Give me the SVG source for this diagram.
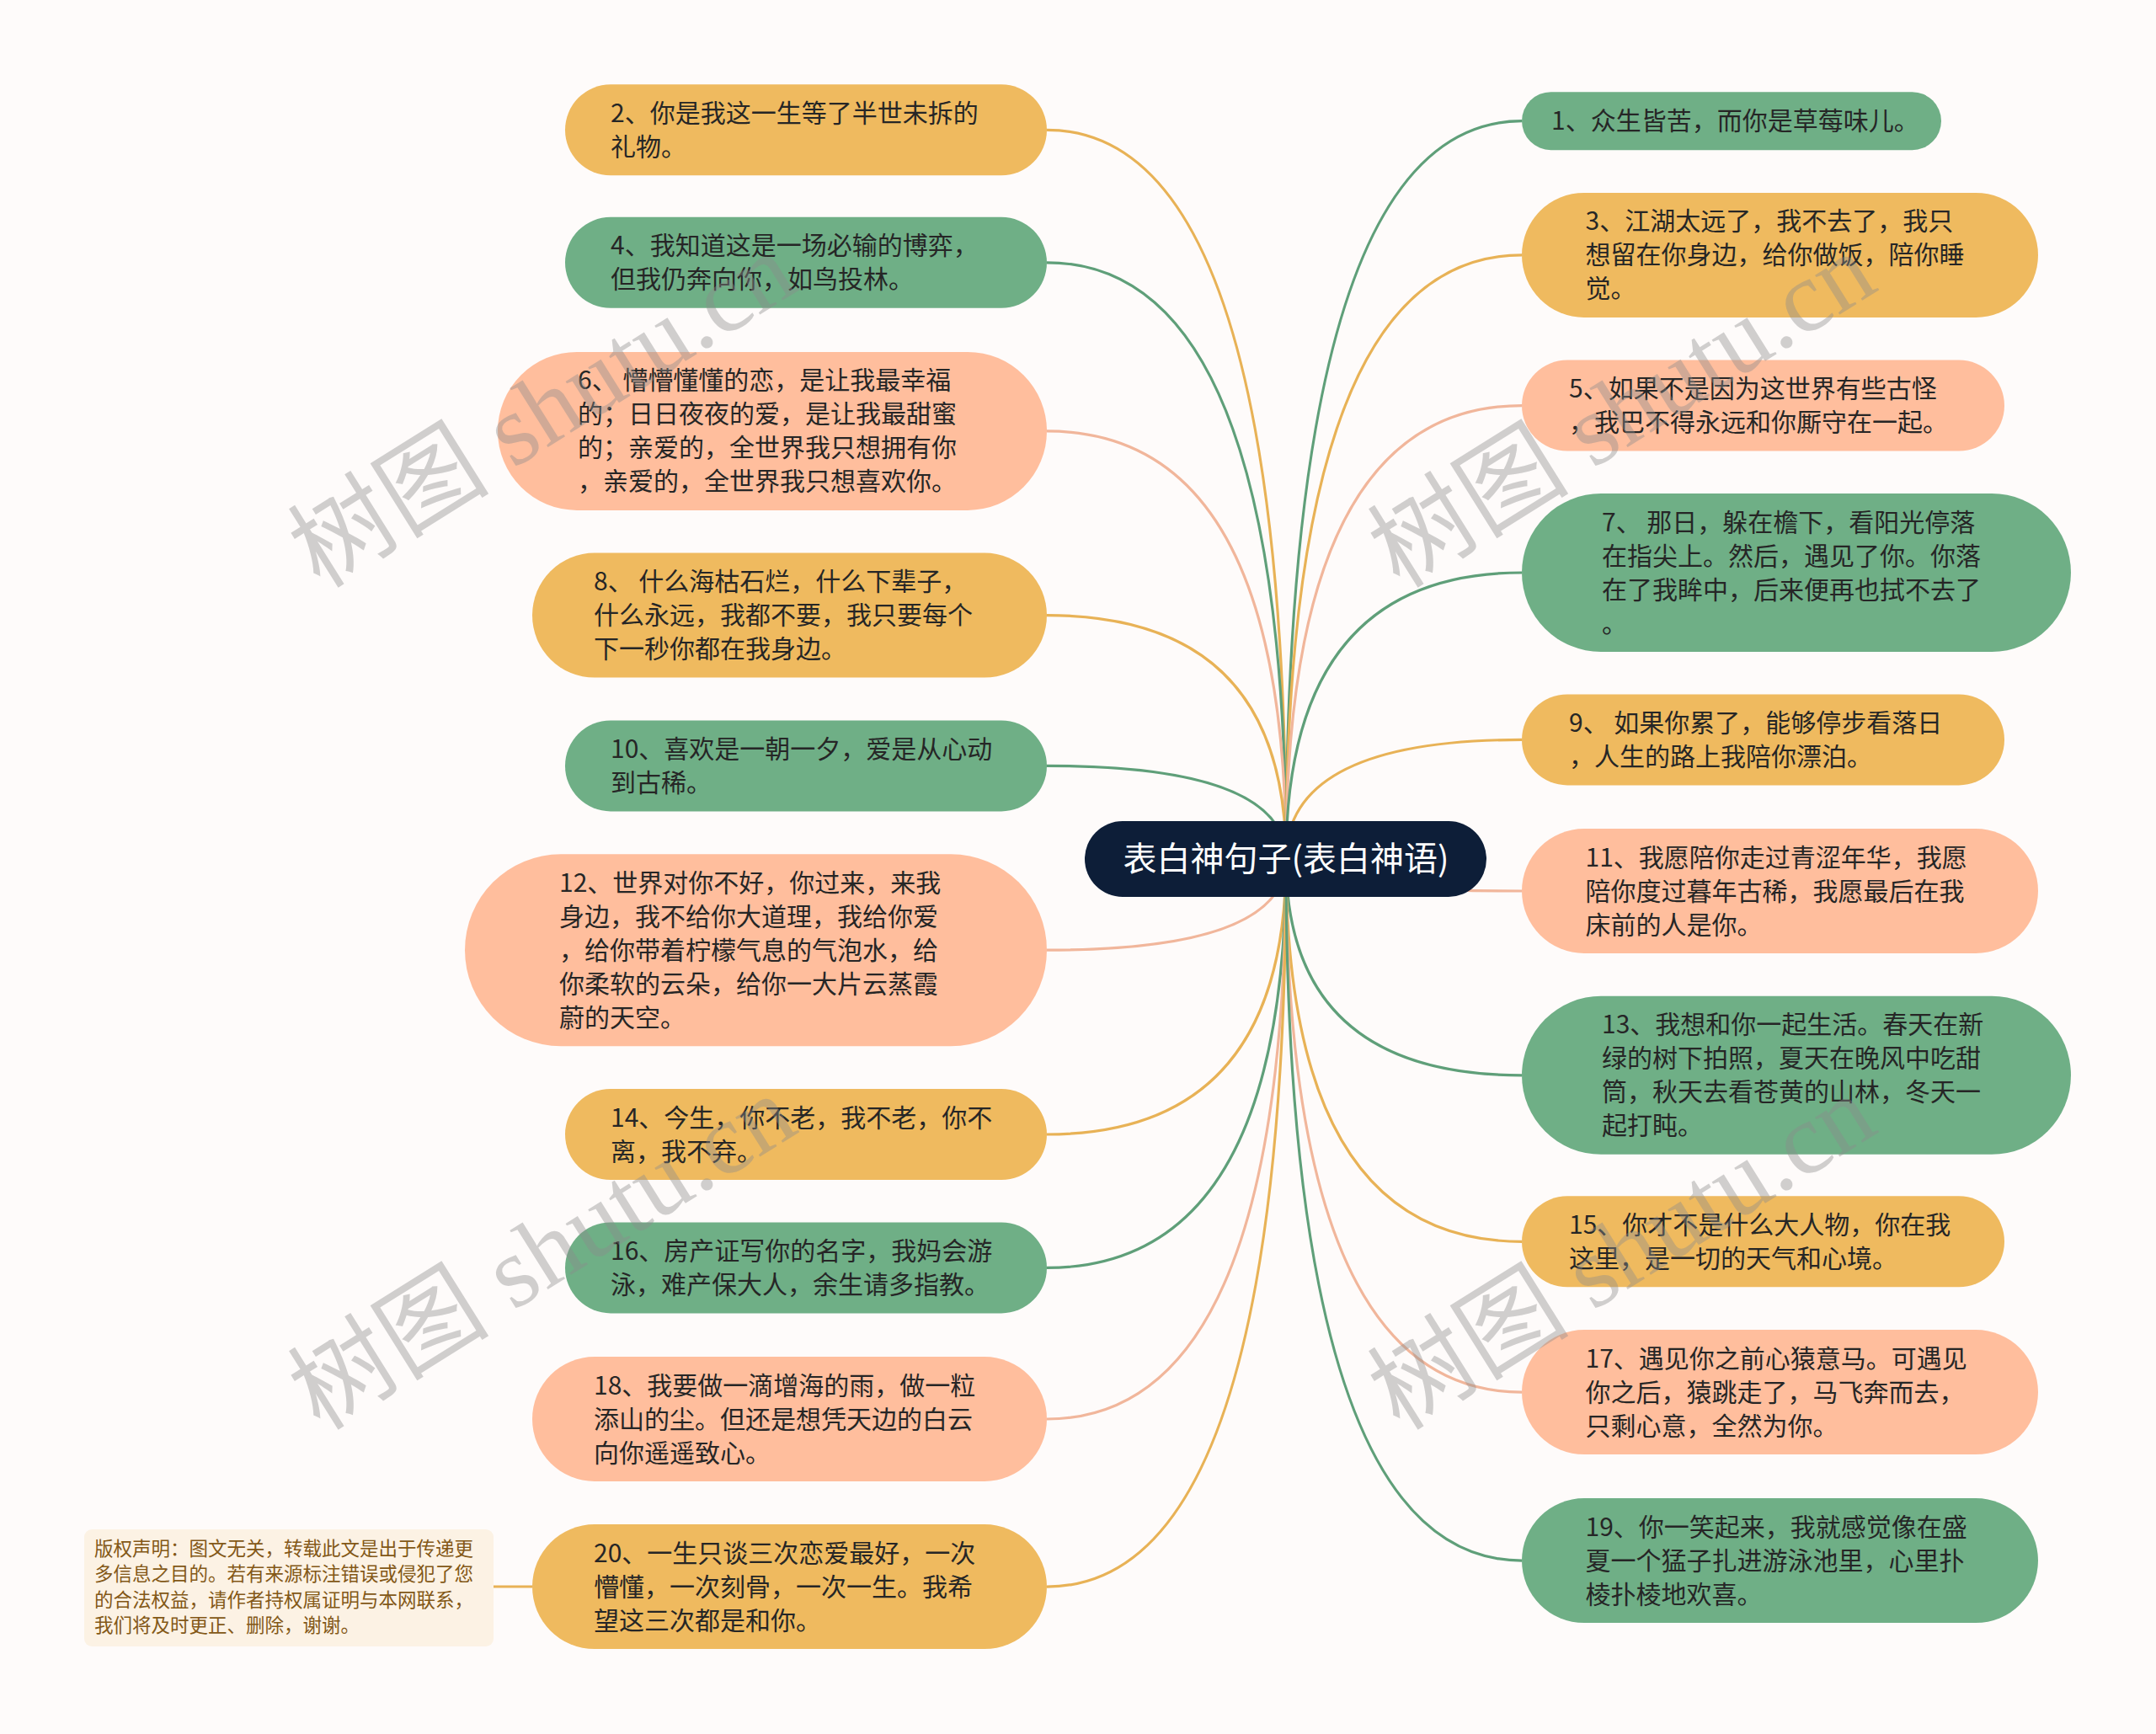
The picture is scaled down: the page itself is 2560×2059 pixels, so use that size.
<svg xmlns="http://www.w3.org/2000/svg" width="2560" height="2059" viewBox="0 0 2560 2059">
<style>
.bg{fill:#FEFBFA}
.o{fill:#EFBA5F}
.g{fill:#6FAF86}
.p{fill:#FFBE9D}
.lo{stroke:#E8B256;fill:none;stroke-width:3.2}
.lg{stroke:#5F9F79;fill:none;stroke-width:3.2}
.lp{stroke:#F1B69B;fill:none;stroke-width:3.2}
.t{font-family:"Noto Sans CJK SC","Noto Sans",sans-serif;font-size:30px;fill:#262626}
.ct{font-family:"Noto Sans CJK SC","Noto Sans",sans-serif;font-size:40px;fill:#FFFFFF}
.cp{font-family:"Noto Sans CJK SC","Noto Sans",sans-serif;font-size:22.5px;fill:#835817}
.wm{font-family:"Liberation Serif","Noto Sans CJK SC",serif;font-size:120px;fill:#8c8c8c;opacity:0.4}
</style>
<rect class="bg" x="0" y="0" width="2560" height="2059"/>
<g id="connectors">
<path class="lo" d="M1527,1020 Q1527,154.3 1243,154.3"/>
<path class="lg" d="M1527,1020 Q1527,311.8 1243,311.8"/>
<path class="lp" d="M1527,1020 Q1527,511.9 1243,511.9"/>
<path class="lo" d="M1527,1020 Q1527,730.6 1243,730.6"/>
<path class="lg" d="M1527,1020 Q1527,909.4 1243,909.4"/>
<path class="lp" d="M1527,1020 Q1527,1128.2 1243,1128.2"/>
<path class="lo" d="M1527,1020 Q1527,1347 1243,1347"/>
<path class="lg" d="M1527,1020 Q1527,1505.4 1243,1505.4"/>
<path class="lp" d="M1527,1020 Q1527,1685 1243,1685"/>
<path class="lo" d="M1527,1020 Q1527,1884.1 1243,1884.1"/>
<path class="lg" d="M1527,1020 Q1527,143.7 1807,143.7"/>
<path class="lo" d="M1527,1020 Q1527,302.9 1807,302.9"/>
<path class="lp" d="M1527,1020 Q1527,481.6 1807,481.6"/>
<path class="lg" d="M1527,1020 Q1527,680 1807,680"/>
<path class="lo" d="M1527,1020 Q1527,878.4 1807,878.4"/>
<path class="lp" d="M1527,1020 Q1527,1058 1807,1058"/>
<path class="lg" d="M1527,1020 Q1527,1276.8 1807,1276.8"/>
<path class="lo" d="M1527,1020 Q1527,1474.3 1807,1474.3"/>
<path class="lp" d="M1527,1020 Q1527,1653.1 1807,1653.1"/>
<path class="lg" d="M1527,1020 Q1527,1853.1 1807,1853.1"/>
<path class="lo" d="M586,1884 L632,1884"/>
</g>
<g id="center">
<rect x="1288" y="975" width="477" height="90" rx="45" fill="#0D1E38"/>
<text class="ct" x="1527" y="1034" text-anchor="middle">表白神句子(表白神语)</text>
</g>
<g id="n2"><rect class="o" x="671" y="100.3" width="572" height="108" rx="54"/>
<text class="t" x="725"><tspan x="725" y="144.8">2、你是我这一生等了半世未拆的</tspan><tspan x="725" y="184.8">礼物。</tspan></text></g>
<g id="n4"><rect class="g" x="671" y="257.8" width="572" height="108" rx="54"/>
<text class="t"><tspan x="725" y="302.3">4、我知道这是一场必输的博弈，</tspan><tspan x="725" y="342.3">但我仍奔向你，如鸟投林。</tspan></text></g>
<g id="n6"><rect class="p" x="591" y="417.9" width="652" height="188" rx="94"/>
<text class="t"><tspan x="686" y="462.4">6、 懵懵懂懂的恋，是让我最幸福</tspan><tspan x="686" y="502.4">的；日日夜夜的爱，是让我最甜蜜</tspan><tspan x="686" y="542.4">的；亲爱的，全世界我只想拥有你</tspan><tspan x="686" y="582.4">，亲爱的，全世界我只想喜欢你。</tspan></text></g>
<g id="n8"><rect class="o" x="632" y="656.6" width="611" height="148" rx="74"/>
<text class="t"><tspan x="705" y="701.1">8、 什么海枯石烂，什么下辈子，</tspan><tspan x="705" y="741.1">什么永远，我都不要，我只要每个</tspan><tspan x="705" y="781.1">下一秒你都在我身边。</tspan></text></g>
<g id="n10"><rect class="g" x="671" y="855.4" width="572" height="108" rx="54"/>
<text class="t"><tspan x="725" y="899.9">10、喜欢是一朝一夕，爱是从心动</tspan><tspan x="725" y="939.9">到古稀。</tspan></text></g>
<g id="n12"><rect class="p" x="552" y="1014.2" width="691" height="228" rx="114"/>
<text class="t"><tspan x="664" y="1058.7">12、世界对你不好，你过来，来我</tspan><tspan x="664" y="1098.7">身边，我不给你大道理，我给你爱</tspan><tspan x="664" y="1138.7">，给你带着柠檬气息的气泡水，给</tspan><tspan x="664" y="1178.7">你柔软的云朵，给你一大片云蒸霞</tspan><tspan x="664" y="1218.7">蔚的天空。</tspan></text></g>
<g id="n14"><rect class="o" x="671" y="1293" width="572" height="108" rx="54"/>
<text class="t"><tspan x="725" y="1337.5">14、今生，你不老，我不老，你不</tspan><tspan x="725" y="1377.5">离，我不弃。</tspan></text></g>
<g id="n16"><rect class="g" x="671" y="1451.4" width="572" height="108" rx="54"/>
<text class="t"><tspan x="725" y="1495.9">16、房产证写你的名字，我妈会游</tspan><tspan x="725" y="1535.9">泳，难产保大人，余生请多指教。</tspan></text></g>
<g id="n18"><rect class="p" x="632" y="1611" width="611" height="148" rx="74"/>
<text class="t"><tspan x="705" y="1655.5">18、我要做一滴增海的雨，做一粒</tspan><tspan x="705" y="1695.5">添山的尘。但还是想凭天边的白云</tspan><tspan x="705" y="1735.5">向你遥遥致心。</tspan></text></g>
<g id="n20"><rect class="o" x="632" y="1810.1" width="611" height="148" rx="74"/>
<text class="t"><tspan x="705" y="1854.6">20、一生只谈三次恋爱最好，一次</tspan><tspan x="705" y="1894.6">懵懂，一次刻骨，一次一生。我希</tspan><tspan x="705" y="1934.6">望这三次都是和你。</tspan></text></g>
<g id="n1"><rect class="g" x="1807" y="109.2" width="498" height="69" rx="34.5"/>
<text class="t"><tspan x="1842" y="154.2">1、众生皆苦，而你是草莓味儿。</tspan></text></g>
<g id="n3"><rect class="o" x="1807" y="228.9" width="613" height="148" rx="74"/>
<text class="t"><tspan x="1882.5" y="273.4">3、江湖太远了，我不去了，我只</tspan><tspan x="1882.5" y="313.4">想留在你身边，给你做饭，陪你睡</tspan><tspan x="1882.5" y="353.4">觉。</tspan></text></g>
<g id="n5"><rect class="p" x="1807" y="427.6" width="573" height="108" rx="54"/>
<text class="t"><tspan x="1863" y="472.1">5、如果不是因为这世界有些古怪</tspan><tspan x="1863" y="512.1">，我巴不得永远和你厮守在一起。</tspan></text></g>
<g id="n7"><rect class="g" x="1807" y="586" width="652" height="188" rx="94"/>
<text class="t"><tspan x="1902" y="630.5">7、 那日，躲在檐下，看阳光停落</tspan><tspan x="1902" y="670.5">在指尖上。然后，遇见了你。你落</tspan><tspan x="1902" y="710.5">在了我眸中，后来便再也拭不去了</tspan><tspan x="1902" y="750.5">。</tspan></text></g>
<g id="n9"><rect class="o" x="1807" y="824.4" width="573" height="108" rx="54"/>
<text class="t"><tspan x="1863" y="868.9">9、 如果你累了，能够停步看落日</tspan><tspan x="1863" y="908.9">，人生的路上我陪你漂泊。</tspan></text></g>
<g id="n11"><rect class="p" x="1807" y="984" width="613" height="148" rx="74"/>
<text class="t"><tspan x="1882.5" y="1028.5">11、我愿陪你走过青涩年华，我愿</tspan><tspan x="1882.5" y="1068.5">陪你度过暮年古稀，我愿最后在我</tspan><tspan x="1882.5" y="1108.5">床前的人是你。</tspan></text></g>
<g id="n13"><rect class="g" x="1807" y="1182.8" width="652" height="188" rx="94"/>
<text class="t"><tspan x="1902" y="1227.3">13、我想和你一起生活。春天在新</tspan><tspan x="1902" y="1267.3">绿的树下拍照，夏天在晚风中吃甜</tspan><tspan x="1902" y="1307.3">筒，秋天去看苍黄的山林，冬天一</tspan><tspan x="1902" y="1347.3">起打盹。</tspan></text></g>
<g id="n15"><rect class="o" x="1807" y="1420.3" width="573" height="108" rx="54"/>
<text class="t"><tspan x="1863" y="1464.8">15、你才不是什么大人物，你在我</tspan><tspan x="1863" y="1504.8">这里，是一切的天气和心境。</tspan></text></g>
<g id="n17"><rect class="p" x="1807" y="1579.1" width="613" height="148" rx="74"/>
<text class="t"><tspan x="1882.5" y="1623.6">17、遇见你之前心猿意马。可遇见</tspan><tspan x="1882.5" y="1663.6">你之后，猿跳走了，马飞奔而去，</tspan><tspan x="1882.5" y="1703.6">只剩心意，全然为你。</tspan></text></g>
<g id="n19"><rect class="g" x="1807" y="1779.1" width="613" height="148" rx="74"/>
<text class="t"><tspan x="1882.5" y="1823.6">19、你一笑起来，我就感觉像在盛</tspan><tspan x="1882.5" y="1863.6">夏一个猛子扎进游泳池里，心里扑</tspan><tspan x="1882.5" y="1903.6">棱扑棱地欢喜。</tspan></text></g>
<g id="copyright"><rect x="100" y="1816" width="486" height="139" rx="9" fill="#FCF2E4"/>
<text class="cp"><tspan x="112" y="1846.5">版权声明：图文无关，转载此文是出于传递更</tspan><tspan x="112" y="1877">多信息之目的。若有来源标注错误或侵犯了您</tspan><tspan x="112" y="1907.5">的合法权益，请作者持权属证明与本网联系，</tspan><tspan x="112" y="1938">我们将及时更正、删除，谢谢。</tspan></text></g>
<g id="watermarks">
<text class="wm" transform="translate(380,700) rotate(-32)">树图 shutu.cn</text>
<text class="wm" transform="translate(1662,700) rotate(-32)">树图 shutu.cn</text>
<text class="wm" transform="translate(380,1700) rotate(-32)">树图 shutu.cn</text>
<text class="wm" transform="translate(1662,1700) rotate(-32)">树图 shutu.cn</text>
</g>
</svg>
